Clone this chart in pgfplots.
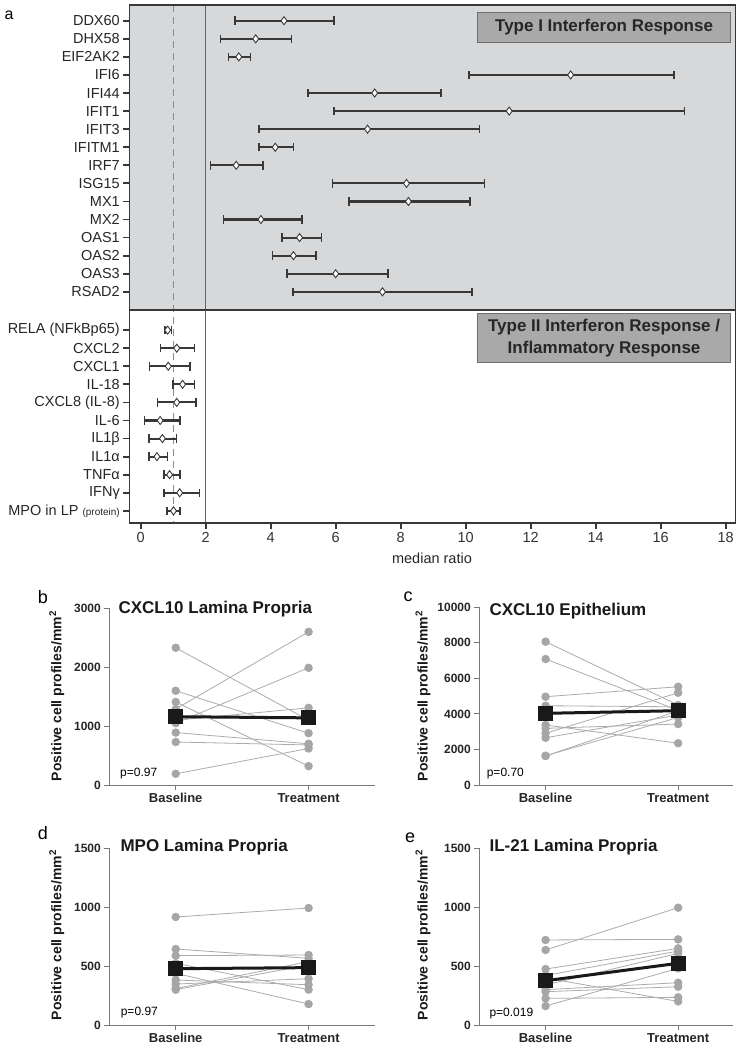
\documentclass[border=0pt]{standalone}
\usepackage{pgfplots}
\pgfplotsset{compat=1.18}
\usepackage{pgfplotstable}
\usetikzlibrary{arrows.meta}
\usepackage{fontspec}
\setmainfont{Liberation Sans}
\definecolor{bgA}{HTML}{D6D8DA}
\definecolor{boxA}{HTML}{A9A9A9}
\definecolor{boxB}{HTML}{6E6E6E}
\definecolor{barC}{HTML}{383838}
\definecolor{ptC}{HTML}{A6A6A6}
\definecolor{lnC}{HTML}{ABABAB}
\definecolor{axC}{HTML}{7A7A7A}
\newcommand\fs[1]{\fontsize{#1bp}{#1bp}\selectfont}

\pgfplotstableread{
pos lo med hi
0 2.88 4.41 5.97
1 2.43 3.54 4.67
2 2.68 3.02 3.41
3 10.08 13.23 16.43
4 5.12 7.20 9.26
5 5.93 11.34 16.76
6 3.62 6.98 10.45
7 3.62 4.14 4.73
8 2.12 2.94 3.78
9 5.88 8.18 10.61
10 6.38 8.24 10.16
11 2.53 3.70 4.98
12 4.33 4.89 5.58
13 4.03 4.70 5.42
14 4.48 6.00 7.63
15 4.67 7.44 10.22
}\typeI

\pgfplotstableread{
pos lo med hi
17.12 0.73 0.83 0.97
18.12 0.59 1.11 1.68
19.12 0.25 0.85 1.54
20.12 0.97 1.29 1.68
21.12 0.50 1.11 1.73
22.12 0.09 0.60 1.23
23.12 0.23 0.67 1.13
24.12 0.23 0.50 0.85
25.12 0.70 0.89 1.23
26.12 0.70 1.20 1.83
27.12 0.78 1.01 1.23
}\typeII

\pgfplotsset{
 rangeplot/.style={barC, line width=2.1bp,
   arrows={Bar[width=8.5bp, line width=1.5bp]-Bar[width=8.5bp, line width=1.5bp]},
   quiver={u=\thisrow{hi}-\thisrow{lo}, v=0}},
 medplot/.style={only marks, mark=diamond*, mark size=4bp,
   mark options={fill=white, draw=barC, line width=0.9bp}},
 pairaxis/.style={scale only axis, anchor=north west,
   axis x line=bottom, axis y line=left,
   axis line style={axC, line width=1bp, -},
   xmin=-0.5, ymin=0, xtick={0,1}, xticklabels={Baseline,Treatment},
   tick style={axC, line width=1bp}, major tick length=5bp, tick align=outside,
   xticklabel style={font=\bfseries\fs{13}, text=black!85},
   yticklabel style={font=\bfseries\fs{12}, text=black!85},
   /pgf/number format/assume math mode=true,
   /pgf/number format/1000 sep={}, scaled y ticks=false, clip=false},
 subj/.style={lnC, line width=0.8bp, mark=*, mark size=3.8bp,
   mark options={fill=ptC, draw=ptC}},
 meanl/.style={black!90, line width=3bp, mark=square*, mark size=6bp,
   mark options={fill=black!90}},
}

\begin{document}
\begin{tikzpicture}
\path[use as bounding box] (0,0) rectangle (745bp,-1050bp);

% ---------------- panel a ----------------
\begin{axis}[
 at={(129.3bp,-5bp)}, anchor=north west, scale only axis,
 width=606.4bp, height=518.3bp,
 xmin=-0.35, xmax=18.31, ymin=-0.87, ymax=27.81, y dir=reverse,
 axis on top, axis line style={line width=1.5bp, barC},
 xtick={0,2,4,6,8,10,12,14,16,18}, xtick pos=left, ytick pos=left,
 tick align=outside, major tick length=6bp,
 tick style={line width=1.8bp, barC},
 ytick={0,1,2,3,4,5,6,7,8,9,10,11,12,13,14,15,17.12,18.12,19.12,20.12,21.12,22.12,23.12,24.12,25.12,26.12,27.12},
 yticklabels={DDX60,DHX58,EIF2AK2,IFI6,IFI44,IFIT1,IFIT3,IFITM1,IRF7,ISG15,MX1,MX2,OAS1,OAS2,OAS3,RSAD2,RELA (NFkBp65),CXCL2,CXCL1,IL-18,CXCL8 (IL-8),IL-6,IL1β,IL1α,TNFα,IFNγ,{MPO in LP {\fs{10}(protein)}}},
 yticklabel style={font=\fs{14.5}, text=black!85},
 xticklabel style={font=\fs{14.5}, text=black!80},
 /pgf/number format/assume math mode=true,
]
\fill[bgA] (axis cs:-0.35,-0.87) rectangle (axis cs:18.31,16.0);
\draw[black!45, line width=1.2bp, dash pattern=on 7bp off 5bp] (axis cs:1,-0.87) -- (axis cs:1,27.81);
\draw[black!60, line width=1.2bp] (axis cs:2,-0.87) -- (axis cs:2,27.81);
\draw[barC, line width=2bp] (axis cs:-0.35,16.0) -- (axis cs:18.31,16.0);
\addplot[rangeplot] table[x=lo, y=pos] {\typeI};
\addplot[rangeplot] table[x=lo, y=pos] {\typeII};
\addplot[medplot] table[x=med, y=pos] {\typeI};
\addplot[medplot] table[x=med, y=pos] {\typeII};
\filldraw[fill=boxA, draw=boxB, line width=1bp] (axis cs:10.35,-0.48) rectangle (axis cs:18.16,1.23);
\node[font=\bfseries\fs{17}, text=black!85] at (axis cs:14.26,0.375) {Type I Interferon Response};
\filldraw[fill=boxA, draw=boxB, line width=1bp] (axis cs:10.35,16.19) rectangle (axis cs:18.16,18.93);
\node[font=\bfseries\fs{17}, text=black!85] at (axis cs:14.26,16.93) {Type II Interferon Response /};
\node[font=\bfseries\fs{17}, text=black!85] at (axis cs:14.26,18.18) {Inflammatory Response};
\draw[barC, line width=3bp] (axis cs:-0.35,27.81) -- (axis cs:18.31,27.81);
\end{axis}
\node[font=\fs{16}] at (9bp,-15bp) {a};
\node[font=\fs{14.5}, text=black!85] at (432bp,-558bp) {median ratio};

% ---------------- panel b ----------------
\begin{axis}[pairaxis, at={(109.3bp,-608.3bp)}, width=265.7bp, height=176.7bp,
  xmax=1.5, ymax=3000, ytick={0,1000,2000,3000}]
\addplot[subj] coordinates {(0,2330) (1,1100)};
\addplot[subj] coordinates {(0,1600) (1,880)};
\addplot[subj] coordinates {(0,1410) (1,320)};
\addplot[subj] coordinates {(0,1290) (1,2600)};
\addplot[subj] coordinates {(0,1050) (1,1990)};
\addplot[subj] coordinates {(0,1100) (1,1310)};
\addplot[subj] coordinates {(0,890) (1,700)};
\addplot[subj] coordinates {(0,730) (1,680)};
\addplot[subj] coordinates {(0,190) (1,620)};
\addplot[meanl] coordinates {(0,1160) (1,1140)};
\end{axis}

% ---------------- panel c ----------------
\begin{axis}[pairaxis, at={(479.3bp,-607.3bp)}, width=254bp, height=177.7bp,
  xmax=1.416, ymax=10000, ytick={0,2000,4000,6000,8000,10000}]
\addplot[subj] coordinates {(0,8065) (1,4500)};
\addplot[subj] coordinates {(0,7090) (1,4200)};
\addplot[subj] coordinates {(0,4970) (1,5530)};
\addplot[subj] coordinates {(0,4460) (1,4400)};
\addplot[subj] coordinates {(0,3380) (1,2350)};
\addplot[subj] coordinates {(0,3190) (1,3430)};
\addplot[subj] coordinates {(0,2910) (1,5190)};
\addplot[subj] coordinates {(0,2660) (1,3940)};
\addplot[subj] coordinates {(0,1630) (1,4180)};
\addplot[subj] coordinates {(0,1650) (1,3800)};
\addplot[meanl] coordinates {(0,4034) (1,4182)};
\end{axis}

% ---------------- panel d ----------------
\begin{axis}[pairaxis, at={(109.3bp,-848.3bp)}, width=265.7bp, height=176.7bp,
  xmax=1.5, ymax=1500, ytick={0,500,1000,1500}]
\addplot[subj] coordinates {(0,917) (1,993)};
\addplot[subj] coordinates {(0,645) (1,566)};
\addplot[subj] coordinates {(0,589) (1,594)};
\addplot[subj] coordinates {(0,524) (1,300)};
\addplot[subj] coordinates {(0,439) (1,178)};
\addplot[subj] coordinates {(0,382) (1,342)};
\addplot[subj] coordinates {(0,348) (1,393)};
\addplot[subj] coordinates {(0,310) (1,538)};
\addplot[subj] coordinates {(0,300) (1,510)};
\addplot[meanl] coordinates {(0,478) (1,487)};
\end{axis}

% ---------------- panel e ----------------
\begin{axis}[pairaxis, at={(479.3bp,-848.3bp)}, width=254bp, height=176.7bp,
  xmax=1.416, ymax=1500, ytick={0,500,1000,1500}]
\addplot[subj] coordinates {(0,637) (1,996)};
\addplot[subj] coordinates {(0,722) (1,727)};
\addplot[subj] coordinates {(0,475) (1,651)};
\addplot[subj] coordinates {(0,420) (1,628)};
\addplot[subj] coordinates {(0,340) (1,608)};
\addplot[subj] coordinates {(0,400) (1,200)};
\addplot[subj] coordinates {(0,300) (1,359)};
\addplot[subj] coordinates {(0,283) (1,325)};
\addplot[subj] coordinates {(0,226) (1,235)};
\addplot[subj] coordinates {(0,161) (1,481)};
\addplot[meanl] coordinates {(0,376) (1,524)};
\end{axis}

% titles, labels, p-values
\node[font=\bfseries\fs{17}, anchor=west, text=black!90] at (115bp,-609bp) {CXCL10 Lamina Propria};
\node[font=\bfseries\fs{17}, anchor=west, text=black!90] at (486bp,-611bp) {CXCL10 Epithelium};
\node[font=\bfseries\fs{17}, anchor=west, text=black!90] at (117bp,-847bp) {MPO Lamina Propria};
\node[font=\bfseries\fs{17}, anchor=west, text=black!90] at (486bp,-847bp) {IL-21 Lamina Propria};

\node[font=\bfseries\fs{14}, rotate=90, text=black!90] at (56.7bp,-696bp) {Positive cell profiles/mm\textsuperscript{2}};
\node[font=\bfseries\fs{14}, rotate=90, text=black!90] at (423bp,-696bp) {Positive cell profiles/mm\textsuperscript{2}};
\node[font=\bfseries\fs{14}, rotate=90, text=black!90] at (56.7bp,-935bp) {Positive cell profiles/mm\textsuperscript{2}};
\node[font=\bfseries\fs{14}, rotate=90, text=black!90] at (423bp,-935bp) {Positive cell profiles/mm\textsuperscript{2}};

\node[font=\fs{12}, anchor=west] at (116.7bp,-774bp) {p=0.97};
\node[font=\fs{12}, anchor=west] at (483.3bp,-774bp) {p=0.70};
\node[font=\fs{12}, anchor=west] at (117.3bp,-1013bp) {p=0.97};
\node[font=\fs{12}, anchor=west] at (486bp,-1014bp) {p=0.019};

\node[font=\fs{18}] at (43bp,-597bp) {b};
\node[font=\fs{18}] at (408bp,-597bp) {c};
\node[font=\fs{18}] at (43bp,-833bp) {d};
\node[font=\fs{18}] at (410bp,-838bp) {e};
\end{tikzpicture}
\end{document}
